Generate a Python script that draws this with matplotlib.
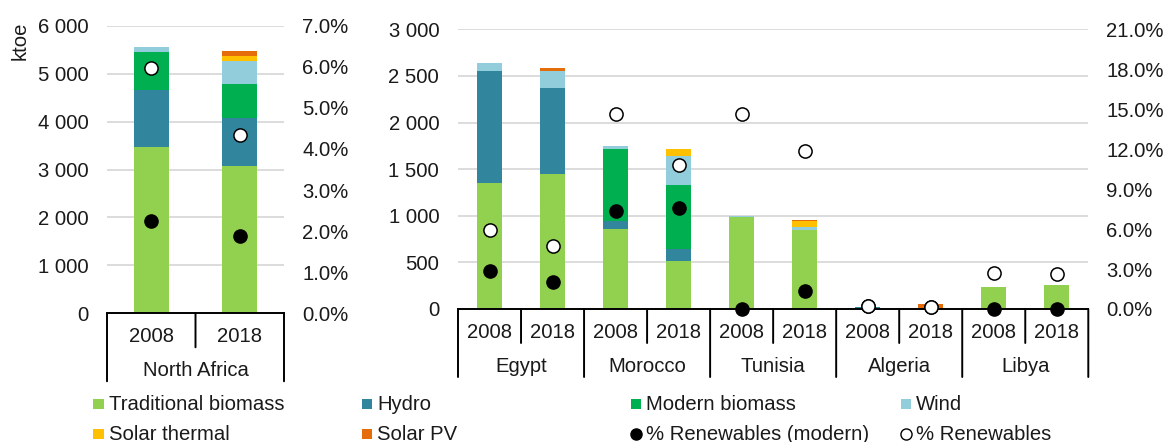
import numpy as np
import matplotlib.pyplot as plt
import matplotlib.transforms as mtransforms
from matplotlib.patches import Rectangle
from matplotlib.lines import Line2D

plt.rcParams['font.family'] = ['Liberation Sans', 'DejaVu Sans']

# ---- data (ktoe) ----
years = ["2008", "2018"]

na_groups = ["North Africa"]
na_trad = [3460, 3075]
na_hydro = [1195, 1000]
na_modern = [800, 715]
na_wind = [95, 465]
na_solar_th = [0, 120]
na_pv = [0, 90]
na_pct_modern = [2.25, 1.89]
na_pct_total = [5.97, 4.33]

countries = ["Egypt", "Morocco", "Tunisia", "Algeria", "Libya"]
trad = [1355, 1450, 860, 510, 985, 848, 0, 0, 233, 254]
hydro = [1200, 920, 85, 135, 0, 0, 25, 0, 0, 0]
modern = [0, 0, 770, 685, 0, 0, 0, 0, 0, 0]
wind = [80, 180, 35, 310, 10, 30, 0, 0, 0, 0]
solar_th = [0, 0, 0, 80, 0, 65, 0, 0, 0, 0]
pv = [0, 35, 0, 0, 0, 8, 0, 50, 0, 0]
pct_modern = [2.85, 2.05, 7.38, 7.56, 0.0, 1.35, 0.25, 0.17, 0.0, 0.0]
pct_total = [5.93, 4.73, 14.62, 10.81, 14.62, 11.9, 0.25, 0.17, 2.73, 2.6]

series_names = ["Traditional biomass", "Hydro", "Modern biomass", "Wind",
                "Solar thermal", "Solar PV"]
series_colors = ["#92D050", "#31859C", "#00B050", "#92CDDC", "#FFC000", "#E46C0A"]

FS = 14.6
TXT = "#1a1a1a"
W, H = 1168, 442

fig = plt.figure(figsize=(W / 100, H / 100), dpi=100)


def axes_px(x0, x1, ytop, ybot):
    return fig.add_axes([x0 / W, 1 - ybot / H, (x1 - x0) / W, (ybot - ytop) / H])


def below(ax, px):
    # x in data, y = axis line shifted down by px pixels
    base = mtransforms.blended_transform_factory(ax.transData, ax.transAxes)
    return base + mtransforms.ScaledTranslation(0, -px / 100, fig.dpi_scale_trans)


def panel(ax, groups, stacks, p_mod, p_tot, ymax, ystep, pmax, pstep):
    n = len(stacks[0])
    x = np.arange(n)
    bottom = np.zeros(n)
    for vals, col in zip(stacks, series_colors):
        vals = np.array(vals, dtype=float)
        ax.bar(x, vals, 0.4, bottom=bottom, color=col, zorder=2)
        bottom += vals
    ax.set_xlim(-0.5, n - 0.5)
    ax.set_ylim(0, ymax)
    yt = np.arange(0, ymax + 1, ystep)
    ax.set_yticks(yt)
    ax.set_yticklabels([f"{int(v):,}".replace(",", " ") for v in yt])
    ax.set_xticks([])
    ax.yaxis.grid(True, color="#D9D9D9", lw=1.3)
    ax.set_axisbelow(True)
    for s in ["left", "right", "top"]:
        ax.spines[s].set_visible(False)
    ax.spines["bottom"].set_color("black")
    ax.spines["bottom"].set_linewidth(1.4)
    ax.tick_params(axis="y", length=0, pad=13.5, labelsize=FS, labelcolor=TXT)

    ax2 = ax.twinx()
    ax2.set_ylim(0, pmax)
    pt = np.arange(0, pmax + 1e-9, pstep)
    ax2.set_yticks(pt)
    ax2.set_yticklabels([f"{v:.1f}%" for v in pt])
    for s in ax2.spines.values():
        s.set_visible(False)
    ax2.tick_params(axis="y", length=0, pad=13, labelsize=FS, labelcolor=TXT)
    ax2.plot(x, p_mod, "o", color="black", ms=9.5, clip_on=False, zorder=3)
    ax2.plot(x, p_tot, "o", mfc="white", mec="black", mew=1.1, ms=9.5,
             clip_on=False, zorder=4)

    # multi-level category axis: years, group names and separators
    for i in range(n):
        ax.text(i, 0, years[i % 2], transform=below(ax, 28.5), ha="center",
                va="baseline", fontsize=FS, color=TXT)
    for g, name in enumerate(groups):
        ax.text(2 * g + 0.5, 0, name, transform=below(ax, 62.7), ha="center",
                va="baseline", fontsize=FS, color=TXT)
    for b in np.arange(-0.5, n, 1.0):
        ln = 68 if int(round(b + 0.5)) % 2 == 0 else 34
        ax.annotate("", xy=(b, 0), xycoords=("data", "axes fraction"),
                    xytext=(0, -ln * 0.72), textcoords="offset points",
                    arrowprops=dict(arrowstyle="-", color="black", lw=1.4,
                                    shrinkA=0, shrinkB=0))
    return ax2


ax_l = axes_px(107, 284, 25.7, 313.3)
panel(ax_l, na_groups, [na_trad, na_hydro, na_modern, na_wind, na_solar_th, na_pv],
      na_pct_modern, na_pct_total, 6000, 1000, 7.0, 1.0)

ax_r = axes_px(458, 1088.3, 29.3, 309)
panel(ax_r, countries, [trad, hydro, modern, wind, solar_th, pv],
      pct_modern, pct_total, 3000, 500, 21.0, 3.0)

fig.text(20 / W, 1 - 41 / H, "ktoe", rotation=90, ha="center", va="center",
         fontsize=FS, color=TXT)

# ---- legend, laid out like the original (4 columns x 2 rows) ----
col_x = [93.3, 361.7, 630.7, 900.7]
row_base = [410, 440]
entries = [(n, c, "sq") for n, c in zip(series_names, series_colors)]
entries += [("% Renewables (modern)", "black", "dot"), ("% Renewables", "white", "ring")]
for k, (name, col, kind) in enumerate(entries):
    r, c = divmod(k, 4)
    x0 = col_x[c]
    yb = row_base[r]
    yc = yb - 6
    if kind == "sq":
        fig.add_artist(Rectangle((x0 / W, 1 - (yc + 5) / H), 10.5 / W, 10 / H,
                                 transform=fig.transFigure, color=col, lw=0))
    else:
        fig.add_artist(Line2D([(x0 + 5.5) / W], [1 - yc / H], marker="o", ms=8,
                              mfc=col, mec="black", mew=1.0, ls="none",
                              transform=fig.transFigure))
    fig.text((x0 + 15.5) / W, 1 - yb / H, name, ha="left", va="baseline",
             fontsize=FS, color=TXT)

fig.savefig("out.png", dpi=100)
